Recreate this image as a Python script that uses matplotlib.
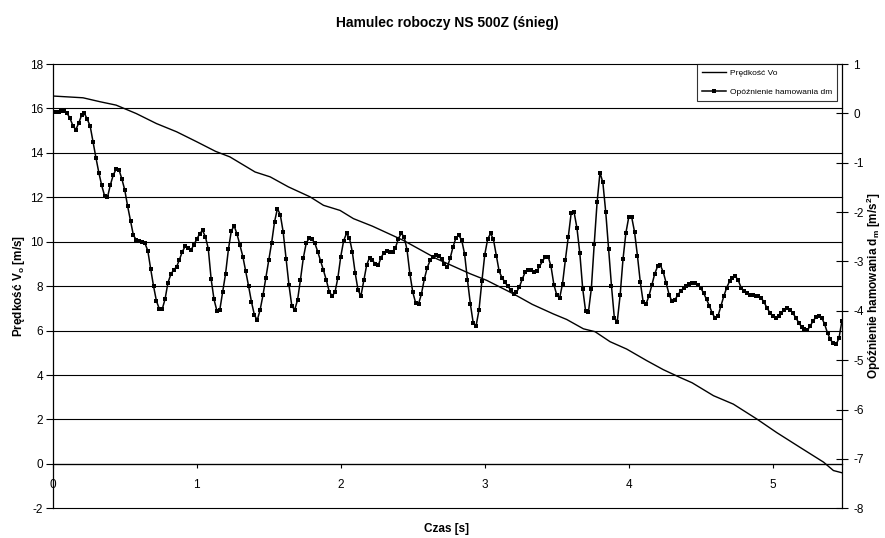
import matplotlib
matplotlib.use("Agg")
import matplotlib.pyplot as plt
import numpy as np

plt.rcParams['font.family'] = ['Liberation Sans', 'DejaVu Sans']
plt.rcParams['mathtext.fontset'] = 'custom'
plt.rcParams['mathtext.rm'] = 'Liberation Sans'
plt.rcParams['mathtext.bf'] = 'Liberation Sans:bold'
plt.rcParams['axes.unicode_minus'] = False

# predkosc Vo [m/s] (lewa os)
vel_t = [0.00, 0.21, 0.33, 0.44, 0.58, 0.72, 0.86, 1.00, 1.13, 1.23, 1.405, 1.51,
         1.636, 1.787, 1.88, 1.995, 2.088, 2.22, 2.435, 2.667, 2.898, 3.014, 3.2,
         3.33, 3.476, 3.569, 3.685, 3.766, 3.87, 3.985, 4.124, 4.24, 4.356, 4.44,
         4.588, 4.726, 4.889, 5.027, 5.19, 5.352, 5.421, 5.48]
vel_v = [16.56, 16.48, 16.3, 16.15, 15.77, 15.32, 14.95, 14.5, 14.07, 13.82, 13.14, 12.92,
         12.47, 12.02, 11.64, 11.41, 11.04, 10.7, 10.06, 9.23, 8.56, 8.26, 7.65,
         7.18, 6.75, 6.5, 6.08, 5.95, 5.5, 5.17, 4.65, 4.24, 3.89, 3.65,
         3.07, 2.69, 2.02, 1.41, 0.74, 0.08, -0.3, -0.4]

# opoznienie hamowania dm [m/s2] (prawa os), probki co 0.02 s
dm_dt = 0.02
dm = [0.02, 0.02, 0.03, 0.04, 0.05, 0.0, -0.1, -0.25, -0.33, -0.2,
      -0.04, 0.0, -0.12, -0.26, -0.58, -0.9, -1.2, -1.46, -1.67, -1.7,
      -1.45, -1.25, -1.13, -1.14, -1.33, -1.55, -1.88, -2.18, -2.47, -2.56,
      -2.59, -2.6, -2.63, -2.78, -3.15, -3.5, -3.8, -3.96, -3.97, -3.76,
      -3.43, -3.26, -3.17, -3.11, -2.96, -2.8, -2.69, -2.72, -2.77, -2.66,
      -2.55, -2.44, -2.37, -2.5, -2.74, -3.36, -3.77, -4.0, -3.98, -3.62,
      -3.25, -2.75, -2.38, -2.28, -2.45, -2.67, -2.9, -3.2, -3.5, -3.82,
      -4.08, -4.19, -3.98, -3.68, -3.33, -2.98, -2.62, -2.2, -1.93, -2.05,
      -2.4, -2.94, -3.47, -3.9, -3.98, -3.78, -3.37, -2.93, -2.63, -2.53,
      -2.55, -2.63, -2.8, -2.99, -3.18, -3.38, -3.61, -3.7, -3.62, -3.33,
      -2.9, -2.58, -2.43, -2.52, -2.8, -3.23, -3.58, -3.7, -3.38, -3.07,
      -2.92, -2.97, -3.06, -3.08, -2.92, -2.82, -2.78, -2.8, -2.8, -2.72,
      -2.54, -2.43, -2.5, -2.76, -3.25, -3.62, -3.84, -3.86, -3.66, -3.36,
      -3.13, -2.98, -2.91, -2.87, -2.89, -2.95, -3.06, -3.11, -2.93, -2.7,
      -2.52, -2.47, -2.57, -2.85, -3.38, -3.86, -4.25, -4.3, -3.98, -3.4,
      -2.86, -2.55, -2.43, -2.55, -2.88, -3.2, -3.33, -3.42, -3.5, -3.58,
      -3.65, -3.62, -3.52, -3.36, -3.22, -3.18, -3.18, -3.22, -3.2, -3.1,
      -3.0, -2.9, -2.9, -3.1, -3.47, -3.68, -3.74, -3.45, -2.96, -2.5,
      -2.02, -2.0, -2.32, -2.83, -3.55, -4.0, -4.02, -3.55, -2.65, -1.8,
      -1.2, -1.4, -2.0, -2.75, -3.5, -4.15, -4.22, -3.68, -2.95, -2.42,
      -2.1, -2.1, -2.4, -2.88, -3.42, -3.82, -3.86, -3.7, -3.48, -3.25,
      -3.1, -3.08, -3.22, -3.44, -3.67, -3.81, -3.78, -3.68, -3.6, -3.54,
      -3.5, -3.46, -3.44, -3.43, -3.47, -3.54, -3.64, -3.77, -3.9, -4.05,
      -4.15, -4.1, -3.9, -3.7, -3.53, -3.4, -3.33, -3.3, -3.38, -3.53,
      -3.6, -3.64, -3.67, -3.68, -3.69, -3.7, -3.74, -3.83, -3.94, -4.04,
      -4.11, -4.15, -4.11, -4.04, -3.98, -3.95, -3.98, -4.05, -4.14, -4.24,
      -4.32, -4.37, -4.39, -4.31, -4.2, -4.13, -4.1, -4.14, -4.27, -4.45,
      -4.58, -4.66, -4.68, -4.55, -4.2]
dm_t = np.arange(len(dm)) * dm_dt

x_ticks = [0, 1, 2, 3, 4, 5]
left_ticks = list(range(-2, 19, 2))
right_ticks = list(range(-8, 2))

fig = plt.figure(figsize=(8.85, 5.38), dpi=100)
ax = fig.add_axes([0.0596, 0.0552, 0.8922, 0.8258])
ax2 = ax.twinx()

ax.plot(vel_t, vel_v, color='black', lw=1.0, label='Prędkość Vo')
ax2.plot(dm_t, dm, color='black', lw=1.1, marker='s', markersize=3.0,
         markeredgewidth=0, label='Opóźnienie hamowania dm')

ax.set_xlim(0, 5.483)
ax.set_ylim(-2, 18)
ax2.set_ylim(-8, 1)

ax.set_yticks(left_ticks)
ax.set_xticks(x_ticks)
ax2.set_yticks(right_ticks)
ax.grid(axis='y', color='black', lw=0.8)
ax.set_axisbelow(True)
for gl in ax.get_ygridlines():
    gl.set_clip_on(False)

ax.spines['top'].set_visible(False)
ax2.spines['top'].set_visible(False)
ax2.spines['bottom'].set_visible(False)
ax2.spines['left'].set_visible(False)
ax.spines['right'].set_visible(False)
ax.spines['bottom'].set_position(('data', 0))
for s in ax.spines.values():
    s.set_linewidth(0.9)
ax2.spines['right'].set_linewidth(0.9)

ax.tick_params(axis='y', direction='out', length=5, width=0.8, pad=2, labelsize=8.5)
ax.tick_params(axis='x', direction='out', length=3, width=0.8, pad=8, labelsize=8.5)
ax2.tick_params(axis='y', direction='inout', length=8, width=0.8, pad=4, labelsize=8.5)

fig.text(0.505, 0.957, 'Hamulec roboczy NS 500Z (śnieg)', ha='center', va='center',
         fontsize=10, fontweight='bold')
fig.text(0.505, 0.017, 'Czas [s]', ha='center', va='center',
         fontsize=8.5, fontweight='bold')
fig.text(0.021, 0.468, r'Prędkość V$_\mathbf{o}$ [m/s]', ha='center', va='center',
         rotation=90, fontsize=8.5, fontweight='bold')
fig.text(0.988, 0.468, r'Opóźnienie hamowania d$_\mathbf{m}$ [m/s$^\mathbf{2}$]',
         ha='center', va='center', rotation=90, fontsize=8.5, fontweight='bold')

h1, l1 = ax.get_legend_handles_labels()
h2, l2 = ax2.get_legend_handles_labels()
leg = fig.legend(h1 + h2, l1 + l2, loc='upper right', bbox_to_anchor=(0.9458, 0.881),
                 fontsize=6, frameon=True, fancybox=False, edgecolor='black',
                 borderaxespad=0, handlelength=2.8, labelspacing=1.4, borderpad=0.6,
                 handletextpad=0.5)
leg.get_frame().set_linewidth(0.8)

fig.savefig('out.png', dpi=100)
